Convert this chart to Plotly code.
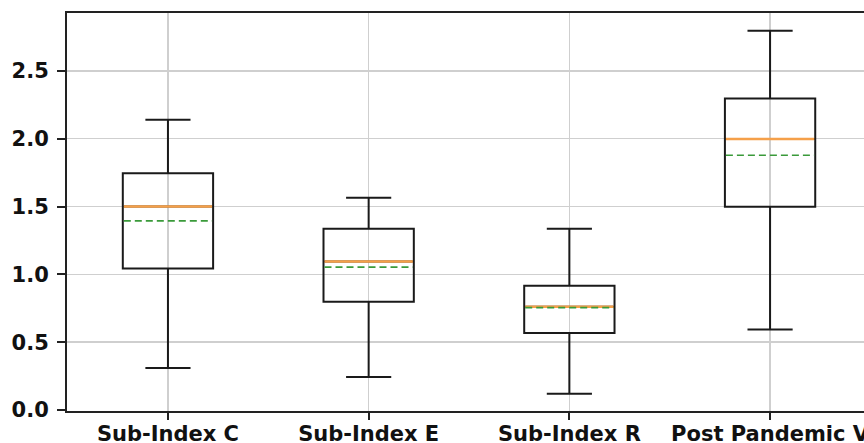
import plotly.graph_objects as go

categories = ["Sub-Index C", "Sub-Index E", "Sub-Index R", "Post Pandemic V"]
positions = [1, 2, 3, 4]
lower_whisker = [0.31, 0.243, 0.121, 0.594]
q1_values = [1.043, 0.798, 0.567, 1.498]
median_values = [1.50, 1.095, 0.761, 1.998]
mean_values = [1.394, 1.053, 0.755, 1.878]
q3_values = [1.745, 1.336, 0.916, 2.295]
upper_whisker = [2.14, 1.564, 1.336, 2.796]
y_tick_values = [0.0, 0.5, 1.0, 1.5, 2.0, 2.5]
y_tick_labels = ["0.0", "0.5", "1.0", "1.5", "2.0", "2.5"]

box_width = 0.45
font_family = "DejaVu Sans"

fig = go.Figure()
for i, pos in enumerate(positions):
    fig.add_trace(go.Box(
        x=[pos], q1=[q1_values[i]], median=[median_values[i]], q3=[q3_values[i]],
        lowerfence=[lower_whisker[i]], upperfence=[upper_whisker[i]],
        width=box_width, whiskerwidth=0.5,
        line=dict(color="#1a1a1a", width=2), fillcolor="rgba(255,255,255,0)",
        boxpoints=False, showlegend=False, hoverinfo="skip",
    ))

# median (orange) and mean (green dashed) lines
for i, pos in enumerate(positions):
    half = box_width / 2
    fig.add_trace(go.Scatter(
        x=[pos - half + 0.005, pos + half - 0.005], y=[median_values[i]] * 2,
        mode="lines", line=dict(color="#f5a04a", width=2.5),
        showlegend=False, hoverinfo="skip",
    ))
    fig.add_trace(go.Scatter(
        x=[pos - half + 0.005, pos + half - 0.005], y=[mean_values[i]] * 2,
        mode="lines", line=dict(color="#3a9a3a", width=1.6, dash="7px,4px"),
        showlegend=False, hoverinfo="skip",
    ))

fig.update_layout(
    width=864, height=443,
    margin=dict(l=67, r=0, t=13, b=32, autoexpand=False),
    plot_bgcolor="white", paper_bgcolor="white",
    font=dict(family=font_family, size=21, color="#111111"),
    xaxis=dict(
        range=[0.497, 4.468], tickmode="array", tickvals=positions, ticktext=categories,
        showgrid=True, gridcolor="#cfcfcf", gridwidth=1.5,
        showline=True, linecolor="#222222", linewidth=2, mirror=True,
        ticks="outside", ticklen=7, tickwidth=2, tickcolor="#222222",
        tickfont=dict(family=font_family, size=21, weight="bold"),
        ticklabeloverflow="allow", ticklabelstandoff=-4,
        zeroline=False, automargin=False,
    ),
    yaxis=dict(
        range=[-0.007, 2.926], tickmode="array", tickvals=y_tick_values, ticktext=y_tick_labels,
        showgrid=True, gridcolor="#cfcfcf", gridwidth=1.5,
        showline=True, linecolor="#222222", linewidth=2, mirror=False,
        ticks="outside", ticklen=8, tickwidth=2, tickcolor="#222222",
        tickfont=dict(family=font_family, size=21, weight="bold"),
        ticklabelstandoff=4,
        zeroline=False, automargin=False,
    ),
)

fig.write_html(
    "out.html",
    config={"displayModeBar": False, "staticPlot": True},
    post_script="document.body.style.margin='0px';document.body.style.overflow='hidden';",
)
